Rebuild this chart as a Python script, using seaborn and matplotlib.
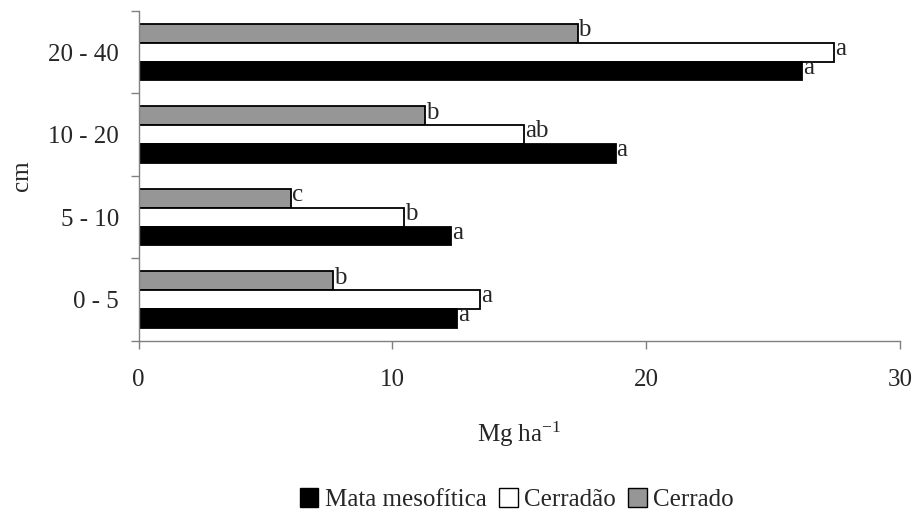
import matplotlib
matplotlib.use("Agg")
import matplotlib.pyplot as plt
import seaborn as sns
import pandas as pd
from matplotlib.patches import Patch

sns.set_theme(style="white")
plt.rcParams['font.family'] = ['Liberation Serif', 'DejaVu Serif']
plt.rcParams['mathtext.default'] = 'regular'

depths = ["20 - 40", "10 - 20", "5 - 10", "0 - 5"]
series = ["Cerrado", "Cerradão", "Mata mesofítica"]
cerrado = [17.3, 11.3, 6.0, 7.65]
cerradao = [27.4, 15.2, 10.45, 13.45]
mata = [26.15, 18.8, 12.3, 12.55]
letters_cerrado = ["b", "b", "c", "b"]
letters_cerradao = ["a", "ab", "b", "a"]
letters_mata = ["a", "a", "a", "a"]
colors = {"Mata mesofítica": "#000000", "Cerradão": "#ffffff", "Cerrado": "#969696"}

rows = []
for i, d in enumerate(depths):
    rows.append((d, "Cerrado", cerrado[i], letters_cerrado[i]))
    rows.append((d, "Cerradão", cerradao[i], letters_cerradao[i]))
    rows.append((d, "Mata mesofítica", mata[i], letters_mata[i]))
df = pd.DataFrame(rows, columns=["depth", "serie", "value", "letter"])

FS = 18
AX_COLOR = "#808080"
fig = plt.figure(figsize=(9.13, 5.13), dpi=100)
ax = fig.add_axes([0.1519, 0.3353, 0.834, 0.6433])
sns.barplot(data=df, y="depth", x="value", hue="serie", order=depths,
            hue_order=series, palette=colors, orient="h", width=0.685, gap=0,
            edgecolor="black", linewidth=1.3, legend=False, ax=ax)

# letters
for cont, s in zip(ax.containers, series):
    sub = df[df.serie == s].set_index("depth").loc[depths]
    for bar, lab in zip(cont, sub["letter"]):
        w = bar.get_width()
        yc = bar.get_y() + bar.get_height() / 2
        ax.text(w + 0.03, yc - 0.04, lab, va="center", ha="left", fontsize=FS)

ax.set_xlim(0, 30)
ax.set_ylim(3.5, -0.5)
ax.set_xticks([0, 10, 20, 30])
ax.tick_params(axis="x", length=6, width=1, color=AX_COLOR, labelsize=FS, pad=14, direction="out")
ax.tick_params(axis="y", which="major", length=0, labelsize=FS, pad=14)
ax.set_yticks([-0.5, 0.5, 1.5, 2.5, 3.5], minor=True)
ax.tick_params(axis="y", which="minor", length=6, width=1, color=AX_COLOR, left=True)
ax.tick_params(axis="x", bottom=True)
for sp in ["top", "right"]:
    ax.spines[sp].set_visible(False)
for sp in ["left", "bottom"]:
    ax.spines[sp].set_color(AX_COLOR)
    ax.spines[sp].set_linewidth(1)
ax.set_xlabel("Mg ha$^{-1}$", fontsize=FS, labelpad=21)
ax.set_ylabel("cm", fontsize=FS, labelpad=11)

handles = [Patch(facecolor=colors[s], edgecolor="black", linewidth=1) for s in ["Mata mesofítica", "Cerradão", "Cerrado"]]
fig.legend(handles, ["Mata mesofítica", "Cerradão", "Cerrado"], loc="center",
           bbox_to_anchor=(0.566, 0.026), ncol=3, frameon=False, fontsize=FS,
           handlelength=0.75, handleheight=0.75, handletextpad=0.25, columnspacing=0.5,
           borderpad=0)

fig.savefig("out.png", dpi=100)
